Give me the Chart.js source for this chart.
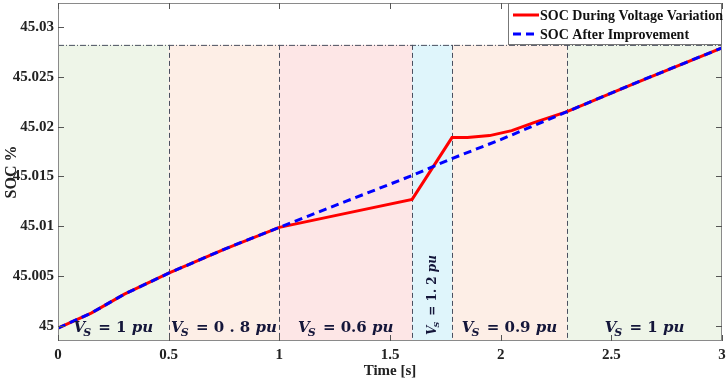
<!DOCTYPE html>
<html>
<head>
<meta charset="utf-8">
<script src="https://cdn.jsdelivr.net/npm/chart.js@4.4.1/dist/chart.umd.min.js"></script>
<style>
  html, body { margin: 0; padding: 0; background: #fff; }
  #wrap { width: 726px; height: 383px; position: relative; }
</style>
</head>
<body>
<div id="wrap"><canvas id="socChart"></canvas></div>
<script>
// axis ticks
const xTicks = [0, 0.5, 1, 1.5, 2, 2.5, 3];
const xTickLabels = ['0', '0.5', '1', '1.5', '2', '2.5', '3'];
const yTicks = [45, 45.005, 45.01, 45.015, 45.02, 45.025, 45.03];
const yTickLabels = ['45', '45.005', '45.01', '45.015', '45.02', '45.025', '45.03'];

// SOC after improvement (blue dashed)
const timeAfter = [0, 0.05, 0.15, 0.3, 0.5, 0.75, 1.0, 1.3, 1.6, 1.78, 2.0, 2.3, 2.6, 3.0];
const socAfter = [44.9998, 45.0003, 45.0013, 45.0032, 45.0053, 45.0077, 45.0099, 45.0125, 45.0151, 45.0168, 45.0187, 45.0215, 45.0243, 45.0279];

// SOC during voltage variation (red)
const timeDuring = [0, 0.05, 0.15, 0.3, 0.5, 0.75, 1.0, 1.3, 1.6, 1.78, 1.85, 1.95, 2.05, 2.15, 2.3, 2.6, 3.0];
const socDuring = [44.9998, 45.0003, 45.0013, 45.0032, 45.0053, 45.0077, 45.0099, 45.0113, 45.0127, 45.0189, 45.0189, 45.0191, 45.0196, 45.0204, 45.0215, 45.0243, 45.0279];

// supply voltage regions
const regionStart = [0, 0.5, 1, 1.6, 1.78, 2.3];
const regionEnd = [0.5, 1, 1.6, 1.78, 2.3, 3];
const regionVs = ['1', '0 . 8', '0.6', '1. 2', '0.9', '1'];
const regionColor = ['#eef5e8', '#fdeee6', '#fde6e6', '#dff5fb', '#fdeee6', '#eef5e8'];
const regionTop = 45.0282;

const serif = "'Liberation Serif', 'Times New Roman', serif";
const mathFont = "'DejaVu Serif', serif";

function toPoints(xs, ys) {
    return xs.map((x, i) => ({ x: x, y: ys[i] }));
}

function drawVs(ctx, cx, base, value, size) {
    // V_S = value pu, centred on cx, baseline at base
    const big = 'italic bold ' + size + 'px ' + mathFont;
    const up = 'bold ' + size + 'px ' + mathFont;
    const sub = 'italic bold ' + Math.round(size * 0.7) + 'px ' + mathFont;
    const rest = ' = ' + value + ' ';
    ctx.font = big;
    const wV = ctx.measureText('V').width;
    const wPu = ctx.measureText('pu').width;
    ctx.font = up;
    const wRest = ctx.measureText(rest).width;
    ctx.font = sub;
    const wS = ctx.measureText('S').width;
    let x = cx - (wV + wS + wRest + wPu) / 2;
    ctx.textAlign = 'left';
    ctx.textBaseline = 'alphabetic';
    ctx.font = big;
    ctx.fillText('V', x, base);
    x += wV;
    ctx.font = sub;
    ctx.fillText('S', x - 2, base + size * 0.25);
    x += wS;
    ctx.font = up;
    ctx.fillText(rest, x, base);
    x += wRest;
    ctx.font = big;
    ctx.fillText('pu', x, base);
}

const regionPlugin = {
    id: 'regions',
    beforeDatasetsDraw(chart) {
        const ctx = chart.ctx;
        const xs = chart.scales.x, ys = chart.scales.y;
        const area = chart.chartArea;
        const top = ys.getPixelForValue(regionTop);
        ctx.save();
        regionStart.forEach((s, i) => {
            const x0 = xs.getPixelForValue(s);
            const x1 = xs.getPixelForValue(regionEnd[i]);
            ctx.fillStyle = regionColor[i];
            ctx.fillRect(x0, top, x1 - x0, area.bottom - top);
        });
        ctx.strokeStyle = '#4a5060';
        ctx.lineWidth = 1;
        ctx.setLineDash([6, 2, 1, 2]);
        ctx.beginPath();
        ctx.moveTo(area.left, top + 0.5);
        ctx.lineTo(area.right, top + 0.5);
        ctx.stroke();
        ctx.setLineDash([5, 3]);
        regionStart.forEach((s, i) => {
            const x = Math.round(xs.getPixelForValue(s)) + 0.5;
            ctx.beginPath();
            ctx.moveTo(x, top);
            ctx.lineTo(x, area.bottom);
            ctx.stroke();
        });
        const xe = Math.round(xs.getPixelForValue(3)) - 0.5;
        ctx.beginPath();
        ctx.moveTo(xe, top);
        ctx.lineTo(xe, area.bottom);
        ctx.stroke();
        ctx.restore();
    },
    afterDatasetsDraw(chart) {
        const ctx = chart.ctx;
        const xs = chart.scales.x, ys = chart.scales.y;
        const area = chart.chartArea;
        ctx.save();
        ctx.fillStyle = '#14163a';
        regionStart.forEach((s, i) => {
            const cx = (xs.getPixelForValue(s) + xs.getPixelForValue(regionEnd[i])) / 2;
            if (regionEnd[i] - s < 0.3) {
                ctx.save();
                ctx.translate(cx + 4, 295);
                ctx.rotate(-Math.PI / 2);
                drawVs(ctx, 0, 0, regionVs[i], 12);
                ctx.restore();
            } else {
                drawVs(ctx, cx, 332, regionVs[i], 15);
            }
        });

        // frame with inward ticks
        ctx.strokeStyle = '#8a8a8a';
        ctx.lineWidth = 1;
        ctx.setLineDash([]);
        ctx.strokeRect(area.left + 0.5, area.top + 0.5, area.right - area.left - 1, area.bottom - area.top - 1);
        ctx.strokeStyle = '#555';
        ctx.beginPath();
        xTicks.forEach(v => {
            const x = Math.round(xs.getPixelForValue(v)) + 0.5;
            ctx.moveTo(x, area.bottom); ctx.lineTo(x, area.bottom - 6);
            ctx.moveTo(x, area.top); ctx.lineTo(x, area.top + 6);
        });
        yTicks.forEach(v => {
            const y = Math.round(ys.getPixelForValue(v)) + 0.5;
            ctx.moveTo(area.left, y); ctx.lineTo(area.left + 6, y);
            ctx.moveTo(area.right, y); ctx.lineTo(area.right - 6, y);
        });
        ctx.stroke();

        // legend box
        const lx = 508, ly = area.top, lw = area.right - 508, lh = 42;
        ctx.fillStyle = '#fff';
        ctx.fillRect(lx, ly, lw, lh);
        ctx.strokeStyle = '#777';
        ctx.strokeRect(lx + 0.5, ly + 0.5, lw - 1, lh - 1);
        ctx.font = 'bold 14px ' + serif;
        ctx.textBaseline = 'middle';
        ctx.textAlign = 'left';
        const legendItems = [chart.data.datasets[0], chart.data.datasets[1]];
        legendItems.forEach((ds, i) => {
            const y = ly + 12 + i * 19;
            ctx.strokeStyle = ds.borderColor;
            ctx.lineWidth = 3;
            ctx.setLineDash(ds.borderDash || []);
            ctx.beginPath();
            ctx.moveTo(513, y);
            ctx.lineTo(539, y);
            ctx.stroke();
            ctx.setLineDash([]);
            ctx.fillStyle = '#111';
            ctx.fillText(ds.label, 540, y + 1);
        });
        ctx.restore();
    }
};

new Chart(document.getElementById('socChart'), {
    type: 'line',
    data: {
        datasets: [
            {
                label: 'SOC During Voltage Variation',
                data: toPoints(timeDuring, socDuring),
                borderColor: '#ff0000',
                borderWidth: 3,
                pointRadius: 0,
                tension: 0,
                order: 2
            },
            {
                label: 'SOC After Improvement',
                data: toPoints(timeAfter, socAfter),
                borderColor: '#0000ff',
                borderWidth: 3,
                borderDash: [8, 5],
                pointRadius: 0,
                tension: 0,
                order: 1
            }
        ]
    },
    options: {
        responsive: true,
        maintainAspectRatio: false,
        animation: false,
        layout: { padding: { top: 3, right: 4, left: 0, bottom: 0 } },
        plugins: {
            legend: { display: false },
            tooltip: { enabled: false }
        },
        scales: {
            x: {
                type: 'linear',
                min: 0,
                max: 3,
                afterBuildTicks: s => { s.ticks = xTicks.map(v => ({ value: v })); },
                afterFit: s => { s.height = 42; s.paddingLeft = 0; s.paddingRight = 0; },
                grid: { display: false, drawTicks: false },
                border: { display: false },
                ticks: {
                    padding: 5,
                    color: '#222',
                    font: { family: serif, size: 15, weight: 'bold' },
                    callback: (v, i) => xTickLabels[i]
                },
                title: {
                    display: true,
                    text: 'Time [s]',
                    color: '#222',
                    padding: { top: 0, bottom: 3 },
                    font: { family: serif, size: 15, weight: 'bold' }
                }
            },
            y: {
                type: 'linear',
                min: 44.9985,
                max: 45.0324,
                afterBuildTicks: s => { s.ticks = yTicks.map(v => ({ value: v })); },
                afterFit: s => { s.width = 58; s.paddingTop = 0; s.paddingBottom = 0; },
                grid: { display: false, drawTicks: false },
                border: { display: false },
                ticks: {
                    padding: 4,
                    color: '#222',
                    font: { family: serif, size: 15, weight: 'bold' },
                    callback: (v, i) => yTickLabels[i]
                },
                title: {
                    display: true,
                    text: 'SOC %',
                    color: '#222',
                    padding: { top: 2, bottom: 0 },
                    font: { family: serif, size: 16, weight: 'bold' }
                }
            }
        }
    },
    plugins: [regionPlugin]
});
</script>
</body>
</html>
